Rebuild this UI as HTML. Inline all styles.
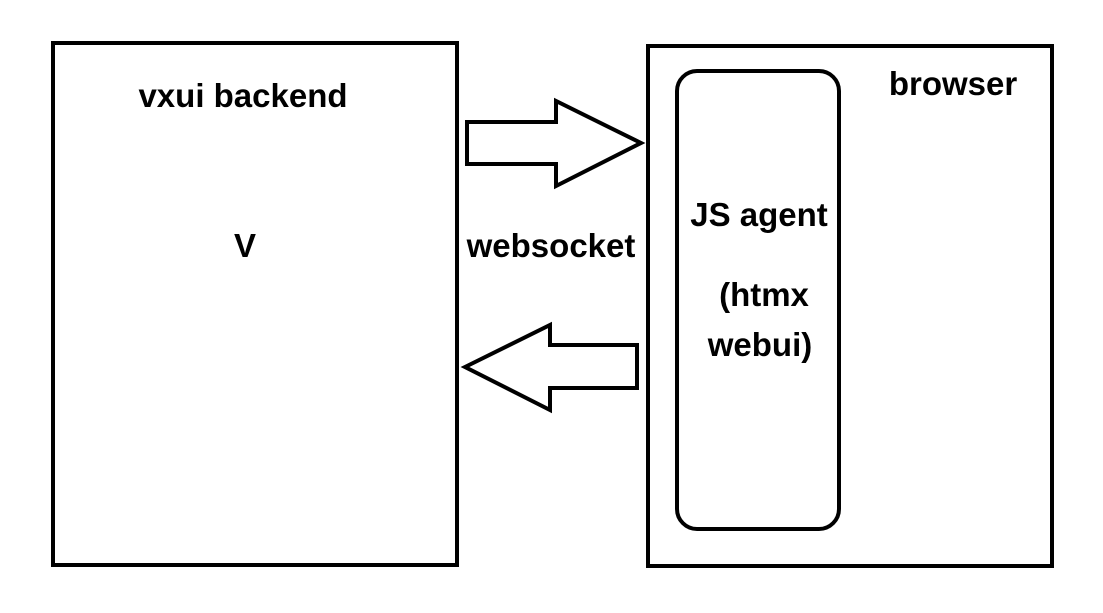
<!DOCTYPE html>
<html><head><meta charset="utf-8"><style>html,body{margin:0;padding:0;background:#fff}</style></head>
<body>
<svg width="1103" height="608" viewBox="0 0 1103 608" xmlns="http://www.w3.org/2000/svg">
<rect width="1103" height="608" fill="#fff"/>
<g fill="none" stroke="#000" stroke-width="4" stroke-linejoin="miter">
<rect x="53" y="43" width="404" height="522"/>
<rect x="648" y="46" width="404" height="520"/>
<rect x="677" y="71" width="162" height="458" rx="20" ry="20"/>
<polygon points="467,122 556,122 556,101 641,143 556,186 556,164 467,164"/>
<polygon points="465,367 550,325 550,345 637,345 637,388 550,388 550,410"/>
</g>
<g font-family="Liberation Sans, DejaVu Sans, sans-serif" font-weight="bold" font-size="33" fill="#000" text-anchor="middle">
<text x="243" y="107">vxui backend</text>
<text x="245" y="257">V</text>
<text x="551" y="257">websocket</text>
<text x="953" y="95">browser</text>
<text x="759" y="226">JS agent</text>
<text x="764" y="306">(htmx</text>
<text x="760" y="356">webui)</text>
</g>
</svg>
</body></html>
